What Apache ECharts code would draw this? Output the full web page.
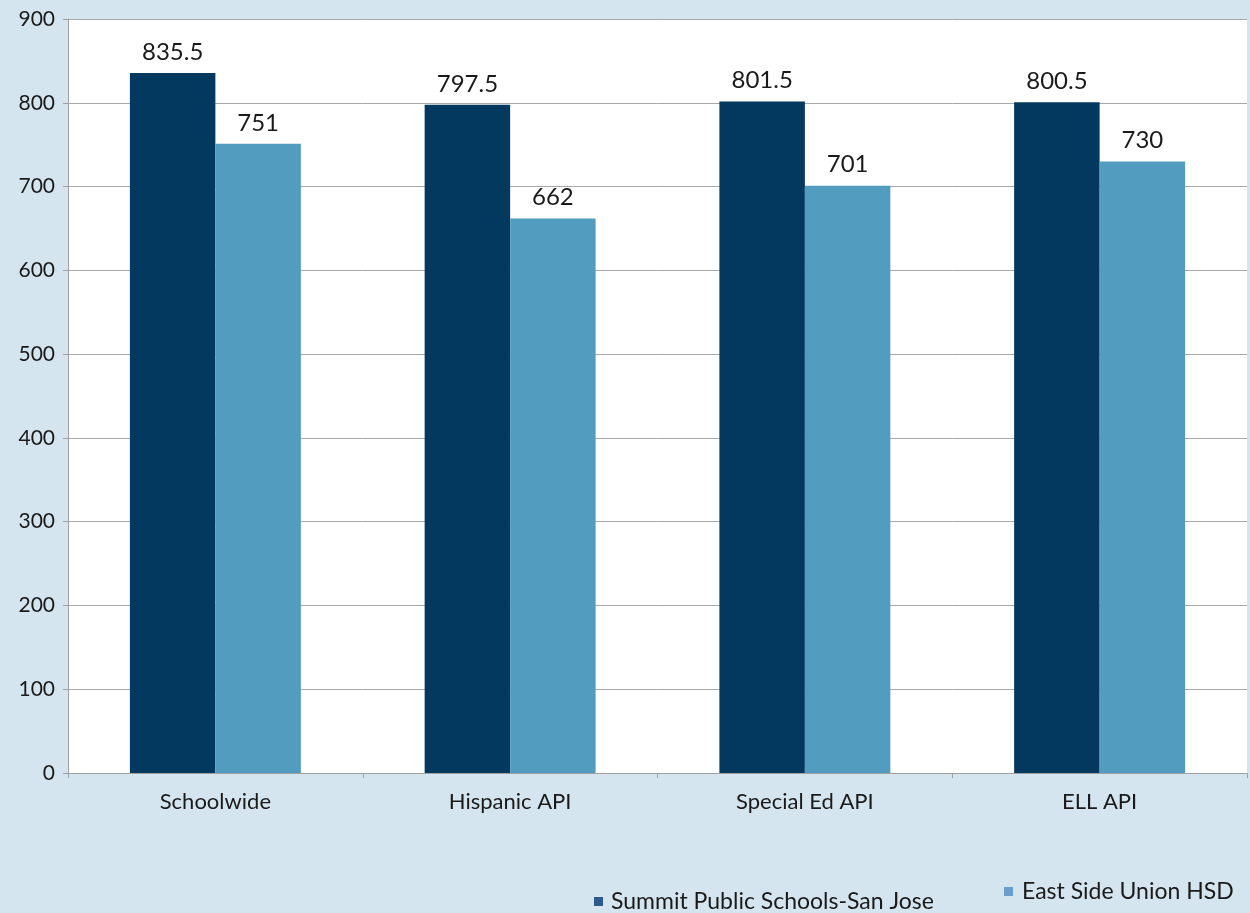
<!DOCTYPE html>
<html>
<head>
<meta charset="utf-8">
<script src="https://cdn.jsdelivr.net/npm/echarts@6/dist/echarts.min.js"></script>
<style>
    html, body { margin: 0; padding: 0; background: #d5e5ef; }
    #chart { width: 1250px; height: 913px; }
</style>
</head>
<body>
<div id="chart"></div>
<script>
    var categories = ['Schoolwide', 'Hispanic API', 'Special Ed API', 'ELL API'];
    var summitValues = [835.5, 797.5, 801.5, 800.5];
    var eastSideValues = [751, 662, 701, 730];
    var seriesNames = ['Summit Public Schools-San Jose', 'East Side Union HSD'];

    var font = 'Lato, "Open Sans", sans-serif';
    var textColor = '#1a1a1a';

    var myChart = echarts.init(document.getElementById('chart'));

    //数值标签
    var barLabel = {
        show: true,
        position: 'top',
        distance: 9,
        fontFamily: font,
        fontSize: 24,
        color: textColor
    };

    var option = {
        backgroundColor: '#d5e5ef',
        animation: false,
        grid: {
            left: 68,
            right: 3,
            top: 19,
            bottom: 140,
            show: true,
            backgroundColor: '#ffffff',
            borderWidth: 0
        },
        legend: [{
            data: [{ name: seriesNames[0], itemStyle: { color: '#2c5a8c' } }],
            left: 594,
            top: 890,
            padding: 0,
            itemWidth: 9,
            itemHeight: 9,
            icon: 'rect',
            textStyle: { fontFamily: font, fontSize: 23, color: textColor, padding: [0, 0, 0, 3] }
        }, {
            data: [{ name: seriesNames[1], itemStyle: { color: '#6a9ecf' } }],
            left: 1004,
            top: 880,
            padding: 0,
            itemWidth: 9,
            itemHeight: 9,
            icon: 'rect',
            textStyle: { fontFamily: font, fontSize: 23, color: textColor, padding: [0, 0, 0, 4] }
        }],
        xAxis: {
            type: 'category',
            data: categories,
            axisLine: { lineStyle: { color: '#a0a0a0', width: 1 } },
            axisTick: { show: true, length: 5, lineStyle: { color: '#a0a0a0' } },
            axisLabel: { fontFamily: font, fontSize: 22, color: textColor, margin: 18 }
        },
        yAxis: {
            type: 'value',
            min: 0,
            max: 900,
            interval: 100,
            axisLine: { show: true, lineStyle: { color: '#a0a0a0', width: 1 } },
            axisTick: { show: true, length: 5, lineStyle: { color: '#a0a0a0' } },
            axisLabel: { fontFamily: font, fontSize: 21, color: textColor, margin: 13 },
            splitLine: { lineStyle: { color: '#a8a8a8', width: 1 } }
        },
        series: [{
            name: seriesNames[0],
            type: 'bar',
            data: summitValues,
            barGap: '0%',
            barCategoryGap: '42%',
            itemStyle: { color: '#03385f' },
            label: barLabel
        }, {
            name: seriesNames[1],
            type: 'bar',
            data: eastSideValues,
            itemStyle: { color: '#529dbf' },
            label: barLabel
        }]
    };

    myChart.setOption(option);
</script>
</body>
</html>
